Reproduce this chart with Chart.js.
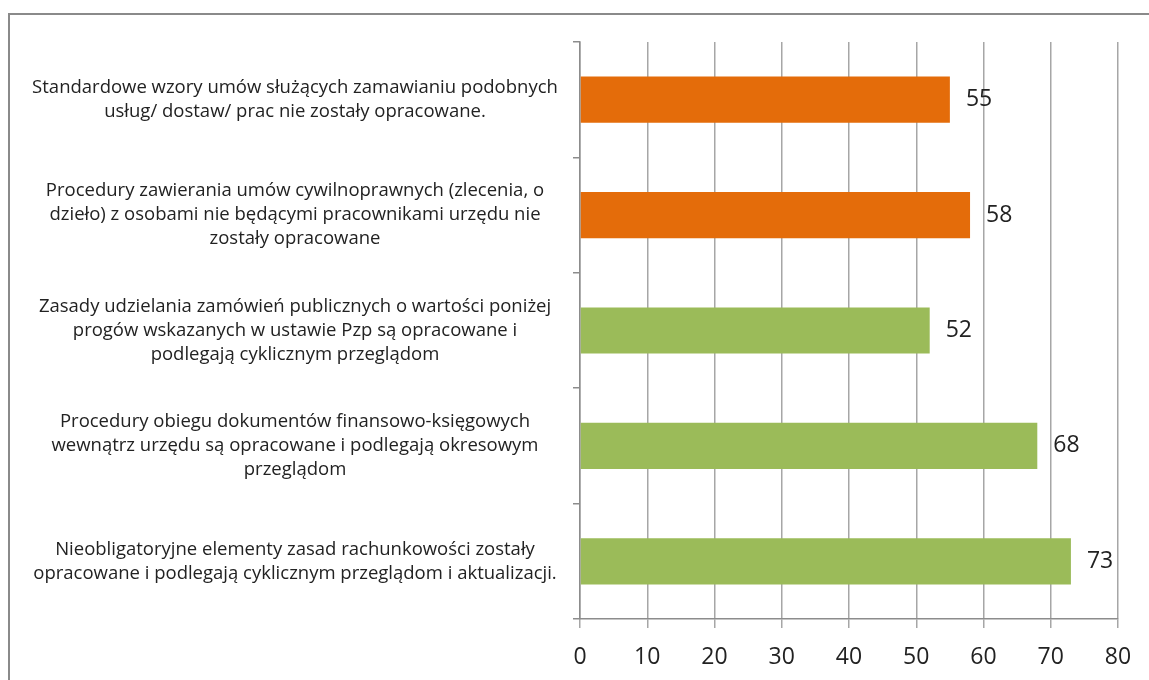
<!DOCTYPE html>
<html lang="pl">
<head>
<meta charset="utf-8">
<title>Wykres</title>
<script src="https://cdn.jsdelivr.net/npm/chart.js@4.4.1/dist/chart.umd.min.js"></script>
<style>
  html, body { margin: 0; padding: 0; background: #fff; overflow: hidden; }
  #frame {
    position: absolute; left: 8px; top: 13px;
    width: 2000px; height: 2000px;
    border: 2px solid #8a8a8a;
  }
  #wrap { position: absolute; left: 0; top: 0; width: 1149px; height: 680px; }
</style>
</head>
<body>
<div id="frame"></div>
<div id="wrap"><canvas id="myBar" width="1149" height="680"></canvas></div>
<script>
// categories (each label split into lines as in the original)
const categories = [
  ['Standardowe wzory umów służących zamawianiu podobnych', 'usług/ dostaw/ prac nie zostały opracowane.'],
  ['Procedury zawierania umów cywilnoprawnych (zlecenia, o', 'dzieło) z osobami nie będącymi pracownikami urzędu nie', 'zostały opracowane'],
  ['Zasady udzielania zamówień publicznych o wartości poniżej', 'progów wskazanych w ustawie Pzp są opracowane i', 'podlegają cyklicznym przeglądom'],
  ['Procedury obiegu dokumentów finansowo-księgowych', 'wewnątrz urzędu są opracowane i podlegają okresowym', 'przeglądom'],
  ['Nieobligatoryjne elementy zasad rachunkowości zostały', 'opracowane i podlegają cyklicznym przeglądom i aktualizacji.'],
];
const values = [55, 58, 52, 68, 73];
// 'brak' = not in place (orange), 'jest' = in place (green)
const groups = ['brak', 'brak', 'jest', 'jest', 'jest'];
const xTicks = [0, 10, 20, 30, 40, 50, 60, 70, 80];

const groupColor = { brak: '#e46c0a', jest: '#9bbb59' };
const labelFont = '18.5px "Open Sans"';

// centre the category labels around x = 295 like the original
const mctx = document.createElement('canvas').getContext('2d');
mctx.font = labelFont;
let widest = 0;
categories.forEach((lines) => lines.forEach((l) => {
  widest = Math.max(widest, mctx.measureText(l).width);
}));
const yPad = Math.max(2, 580 - 7 - 295 - widest / 2);

const valueLabels = {
  id: 'valueLabels',
  afterDatasetsDraw(chart) {
    const ctx = chart.ctx;
    const meta = chart.getDatasetMeta(0);
    ctx.save();
    ctx.font = '23px "Open Sans"';
    ctx.fillStyle = '#222';
    ctx.textAlign = 'left';
    ctx.textBaseline = 'middle';
    meta.data.forEach((bar, i) => {
      ctx.fillText(String(values[i]), bar.x + 16, bar.y);
    });
    ctx.restore();
  },
};

const bar = document.getElementById('myBar').getContext('2d');
const myChart = new Chart(bar, {
  type: 'bar',
  data: {
    labels: categories,
    datasets: [
      {
        data: values,
        backgroundColor: groups.map((g) => groupColor[g]),
        borderWidth: 0,
        categoryPercentage: 1,
        barPercentage: 0.4,
      },
    ],
  },
  options: {
    indexAxis: 'y',
    responsive: false,
    animation: false,
    layout: { padding: { left: 10, right: 31, top: 42, bottom: 0 } },
    plugins: { legend: { display: false }, tooltip: { enabled: false } },
    scales: {
      x: {
        min: 0,
        max: 80,
        afterBuildTicks: (scale) => { scale.ticks = xTicks.map((v) => ({ value: v })); },
        afterFit: (scale) => { scale.height = 61; scale.paddingLeft = 0; scale.paddingRight = 0; },
        grid: { color: '#a6a6a6', lineWidth: 1.5, tickLength: 9 },
        border: { color: '#8c8c8c', width: 1.5 },
        ticks: { font: { family: 'Open Sans', size: 23 }, color: '#222', padding: 16, maxRotation: 0 },
      },
      y: {
        afterFit: (scale) => { scale.width = 570; scale.paddingTop = 0; scale.paddingBottom = 0; },
        grid: { drawOnChartArea: false, color: '#8c8c8c', lineWidth: 1.5, tickLength: 7 },
        border: { color: '#8c8c8c', width: 1.5 },
        ticks: {
          font: { family: 'Open Sans', size: 18.5, lineHeight: 1.3 },
          color: '#222',
          crossAlign: 'center',
          padding: yPad,
          autoSkip: false,
        },
      },
    },
  },
  plugins: [valueLabels],
});
</script>
</body>
</html>
